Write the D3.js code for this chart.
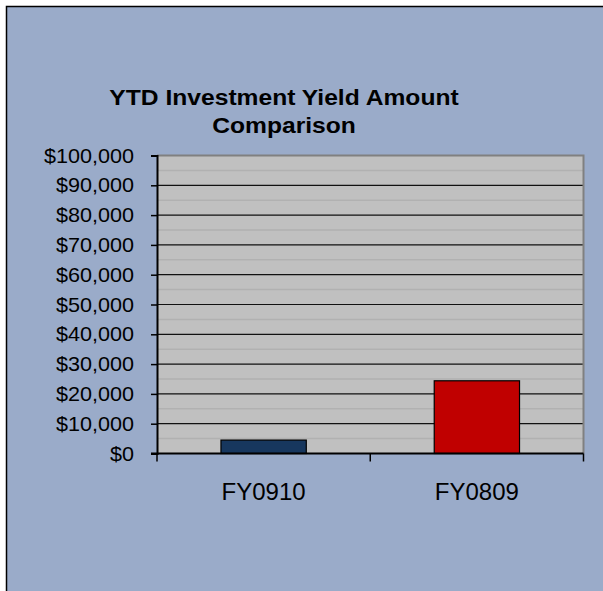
<!DOCTYPE html>
<html>
<head>
<meta charset="utf-8">
<script src="https://cdn.jsdelivr.net/npm/d3@7"></script>
<style>
  html, body { margin: 0; padding: 0; background: #fff; }
  svg { display: block; font-family: "Liberation Sans", Arial, sans-serif; }
</style>
</head>
<body>
<svg id="chart"></svg>
<script>
// chart data
const categories = ["FY0910", "FY0809"];
const amounts = [4500, 24400];
const barColors = ["#17375e", "#c00000"];
const yTicks = [0, 10000, 20000, 30000, 40000, 50000, 60000, 70000, 80000, 90000, 100000];
const minorTicks = [5000, 15000, 25000, 35000, 45000, 55000, 65000, 75000, 85000, 95000];
const titleLines = ["YTD Investment Yield Amount", "Comparison"];

const width = 603, height = 591;
const plot = { left: 157, top: 155.5, right: 583.5, bottom: 453.5 };

const svg = d3.select("#chart")
    .attr("width", width)
    .attr("height", height);

// outer frame (runs past the right and bottom edge)
svg.append("rect")
    .attr("x", 6.5).attr("y", 6.5)
    .attr("width", 640).attr("height", 640)
    .attr("fill", "#9aabc9")
    .attr("stroke", "#000")
    .attr("stroke-width", 1.5);

const x = d3.scaleBand()
    .domain(categories)
    .range([plot.left, plot.right])
    .paddingInner(0.6)
    .paddingOuter(0.3);

const y = d3.scaleLinear()
    .domain([0, 100000])
    .range([plot.bottom, plot.top]);

// plot area
svg.append("rect")
    .attr("x", plot.left).attr("y", plot.top)
    .attr("width", plot.right - plot.left)
    .attr("height", plot.bottom - plot.top)
    .attr("fill", "#c0c0c0");

// minor gridlines
svg.append("g").selectAll("line")
    .data(minorTicks)
    .join("line")
    .attr("x1", plot.left).attr("x2", plot.right)
    .attr("y1", d => y(d)).attr("y2", d => y(d))
    .attr("stroke", "#b1b1b1")
    .attr("stroke-width", 1.5);

// major gridlines
svg.append("g").selectAll("line")
    .data(yTicks.filter(d => d > 0 && d < 100000))
    .join("line")
    .attr("x1", plot.left).attr("x2", plot.right)
    .attr("y1", d => y(d)).attr("y2", d => y(d))
    .attr("stroke", "#111")
    .attr("stroke-width", 1.2);

// plot border top / right
svg.append("path")
    .attr("d", `M${plot.left},${plot.top}H${plot.right}V${plot.bottom}`)
    .attr("fill", "none")
    .attr("stroke", "#808080")
    .attr("stroke-width", 2);

// bars
svg.append("g").selectAll("rect")
    .data(categories)
    .join("rect")
    .attr("x", d => x(d))
    .attr("width", x.bandwidth())
    .attr("y", (d, i) => y(amounts[i]))
    .attr("height", (d, i) => y(0) - y(amounts[i]))
    .attr("fill", (d, i) => barColors[i])
    .attr("stroke", "#000")
    .attr("stroke-width", 1.2);

// y axis
const yAxis = svg.append("g")
    .attr("transform", `translate(${plot.left},0)`)
    .call(d3.axisLeft(y).tickValues(yTicks).tickSize(6).tickFormat(() => ""));
yAxis.select(".domain").attr("stroke", "#000").attr("stroke-width", 2);
yAxis.selectAll(".tick line").attr("stroke", "#000").attr("stroke-width", 1.5);

svg.append("g").selectAll("text")
    .data(yTicks)
    .join("text")
    .attr("transform", d => `translate(134,${y(d) + 7}) scale(1.08,1)`)
    .attr("text-anchor", "end")
    .attr("font-size", 20)
    .attr("fill", "#000")
    .text(d => "$" + d3.format(",")(d));

// x axis
const xEdges = d3.range(categories.length + 1)
    .map(i => plot.left + i * (plot.right - plot.left) / categories.length);
svg.append("line")
    .attr("x1", plot.left - 6).attr("x2", plot.right)
    .attr("y1", plot.bottom).attr("y2", plot.bottom)
    .attr("stroke", "#000").attr("stroke-width", 2);
svg.append("g").selectAll("line")
    .data(xEdges)
    .join("line")
    .attr("x1", d => d).attr("x2", d => d)
    .attr("y1", plot.bottom).attr("y2", plot.bottom + 8)
    .attr("stroke", "#000").attr("stroke-width", 1.5);

svg.append("g").selectAll("text")
    .data(categories)
    .join("text")
    .attr("x", d => x(d) + x.bandwidth() / 2)
    .attr("y", 500)
    .attr("text-anchor", "middle")
    .attr("font-size", 24)
    .attr("fill", "#000")
    .text(d => d);

// title
svg.append("g").selectAll("text")
    .data(titleLines)
    .join("text")
    .attr("transform", (d, i) => `translate(284,${105 + i * 28}) scale(1.12,1)`)
    .attr("text-anchor", "middle")
    .attr("font-size", 22)
    .attr("font-weight", "bold")
    .attr("fill", "#000")
    .text(d => d);
</script>
</body>
</html>
